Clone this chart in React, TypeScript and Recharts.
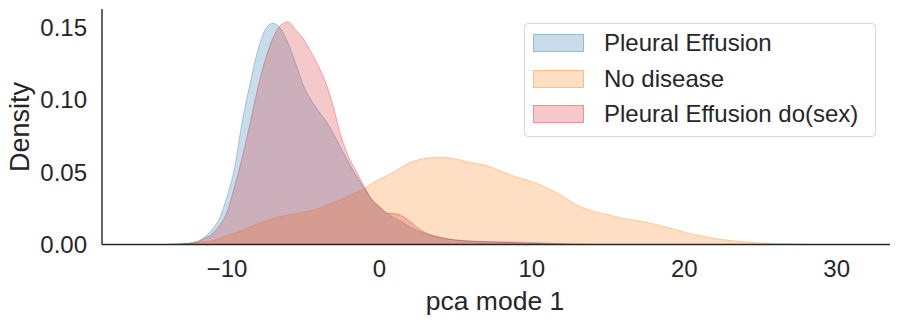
import React from 'react';
import { AreaChart, Area, XAxis, YAxis, Label } from 'recharts';

// x grid of the density estimates (pca mode 1)
const xs = [
    -14, -13, -12, -11.5, -11, -10.5, -10, -9.5, -9, -8.5, -8, -7.5, -7, -6.5, -6, -5.5, -5,
    -4.5, -4, -3.5, -3, -2.5, -2, -1.5, -1, -0.5, 0, 0.5, 1, 1.5, 2, 2.5, 3, 4, 5, 6, 7, 8, 9,
    10, 11, 12, 13, 14, 15, 16, 17, 18, 19, 20, 21, 22, 23, 24, 25, 26, 27, 28
];

const pleuralEffusion = [
    0, 0.0005, 0.002, 0.005, 0.01, 0.018, 0.033, 0.053, 0.085, 0.11, 0.133, 0.148, 0.1525,
    0.149, 0.139, 0.125, 0.11, 0.1, 0.092, 0.085, 0.076, 0.066, 0.056, 0.047, 0.039, 0.031,
    0.026, 0.0215, 0.018, 0.0155, 0.012, 0.0095, 0.0075, 0.0046, 0.0032, 0.0024, 0.002,
    0.0018, 0.0016, 0.0014, 0.001, 0.0005, 0.0002, 0, 0, 0, 0, 0, 0, 0, 0, 0, 0, 0, 0, 0, 0, 0
];

const noDisease = [
    0, 0.0003, 0.0012, 0.0018, 0.0025, 0.004, 0.006, 0.008, 0.0098, 0.012, 0.0142, 0.0162,
    0.0178, 0.0192, 0.0202, 0.0212, 0.0222, 0.0232, 0.0248, 0.027, 0.029, 0.031, 0.0335,
    0.036, 0.0385, 0.042, 0.045, 0.0475, 0.0505, 0.0535, 0.0565, 0.0582, 0.0594, 0.0602,
    0.059, 0.0565, 0.0545, 0.0505, 0.0465, 0.0435, 0.039, 0.0335, 0.027, 0.023, 0.0205,
    0.018, 0.0162, 0.0142, 0.0115, 0.0087, 0.0062, 0.0042, 0.0028, 0.0018, 0.0011, 0.0006,
    0.0002, 0
];

const pleuralEffusionDoSex = [
    0, 0.0003, 0.0015, 0.004, 0.007, 0.013, 0.022, 0.04, 0.06, 0.083, 0.107, 0.127, 0.142,
    0.151, 0.1535, 0.148, 0.142, 0.133, 0.123, 0.111, 0.094, 0.074, 0.06, 0.05, 0.04, 0.031,
    0.026, 0.0215, 0.0212, 0.0195, 0.016, 0.0115, 0.0082, 0.005, 0.003, 0.0022, 0.0018,
    0.0015, 0.0012, 0.0008, 0.0004, 0.0001, 0, 0, 0, 0, 0, 0, 0, 0, 0, 0, 0, 0, 0, 0, 0, 0
];

const xTicks = [-10, 0, 10, 20, 30];
const yTicks = [0, 0.05, 0.1, 0.15];

const SERIES = [
    { key: 'pleural', name: 'Pleural Effusion', color: '#1f77b4' },
    { key: 'none', name: 'No disease', color: '#ff7f0e' },
    { key: 'pleuralDo', name: 'Pleural Effusion do(sex)', color: '#d62728' }
];

const data = xs.map((x, i) => ({
    x,
    pleural: pleuralEffusion[i],
    none: noDisease[i],
    pleuralDo: pleuralEffusionDoSex[i]
}));

const FONT = '"Liberation Sans", Arial, Helvetica, sans-serif';
const INK = '#262626';

const fmtX = (v: number) => (v < 0 ? `\u2212${-v}` : `${v}`);

// legend drawn as an overlay so it does not eat into the plot area
const LegendBox = () => (
    <div
        style={{
            position: 'absolute',
            left: 524,
            top: 23,
            width: 352,
            height: 114,
            boxSizing: 'border-box',
            border: '1px solid #d6d6d6',
            borderRadius: 4,
            background: 'rgba(255,255,255,0.8)',
            padding: '1px 0 0 8px',
            fontFamily: FONT,
            fontSize: 24,
            color: INK
        }}
    >
        {SERIES.map(s => (
            <div key={s.key} style={{ display: 'flex', alignItems: 'center', height: 35.7 }}>
                <span
                    style={{
                        display: 'inline-block',
                        width: 51,
                        height: 18,
                        background: s.color + '40',
                        border: `1px solid ${s.color}55`,
                        boxSizing: 'border-box',
                        marginRight: 20
                    }}
                />
                <span>{s.name}</span>
            </div>
        ))}
    </div>
);

const App: React.FC = () => {
    return (
        <div style={{ position: 'absolute', left: 0, top: 0, background: '#fff' }}>
            <AreaChart
                width={899}
                height={322}
                data={data}
                margin={{ top: 9, right: 9, bottom: 0, left: 0 }}
            >
                <XAxis
                    dataKey="x"
                    type="number"
                    domain={[-18.2, 33.5]}
                    ticks={xTicks}
                    tickFormatter={fmtX}
                    height={77.5}
                    tickLine={false}
                    tickSize={0}
                    tickMargin={15}
                    axisLine={{ stroke: INK, strokeWidth: 1.4 }}
                    tick={{ fill: INK, fontSize: 24, fontFamily: FONT }}
                    allowDataOverflow
                >
                    <Label
                        content={() => (
                            <text
                                x={495}
                                y={310}
                                textAnchor="middle"
                                style={{ fill: INK, fontSize: 26.5, fontFamily: FONT }}
                            >
                                pca mode 1
                            </text>
                        )}
                    />
                </XAxis>
                <YAxis
                    type="number"
                    domain={[0, 0.1624]}
                    ticks={yTicks}
                    tickFormatter={(v: number) => v.toFixed(2)}
                    width={102}
                    tickLine={false}
                    tickSize={0}
                    tickMargin={15}
                    axisLine={{ stroke: INK, strokeWidth: 1.4 }}
                    tick={{ fill: INK, fontSize: 24, fontFamily: FONT }}
                    allowDataOverflow
                >
                    <Label
                        content={() => (
                            <text
                                x={29}
                                y={127}
                                transform="rotate(-90 29 127)"
                                textAnchor="middle"
                                style={{ fill: INK, fontSize: 27, fontFamily: FONT }}
                            >
                                Density
                            </text>
                        )}
                    />
                </YAxis>
                {SERIES.map(s => (
                    <Area
                        key={s.key}
                        type="monotone"
                        dataKey={s.key}
                        name={s.name}
                        stroke={s.color}
                        strokeOpacity={0.35}
                        strokeWidth={1}
                        fill={s.color}
                        fillOpacity={0.25}
                        isAnimationActive={false}
                        dot={false}
                        activeDot={false}
                    />
                ))}
            </AreaChart>
            <LegendBox />
        </div>
    );
};

export default App;
